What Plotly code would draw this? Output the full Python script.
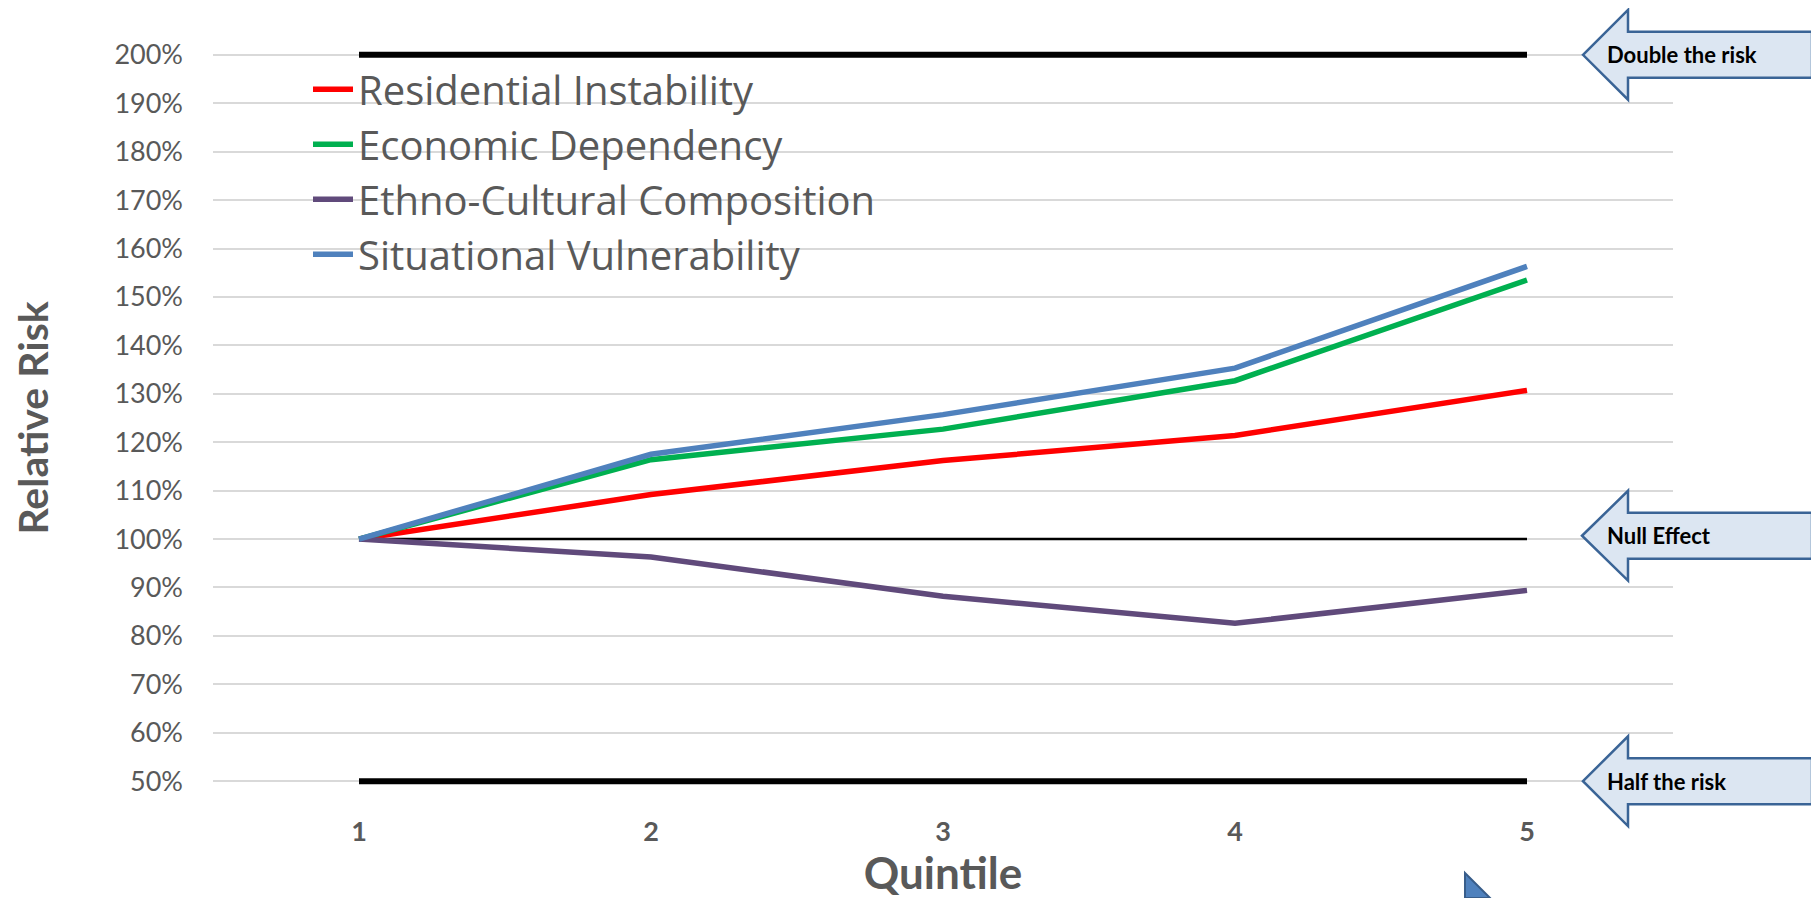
import plotly.graph_objects as go

# ---- data ----
quintiles = [1, 2, 3, 4, 5]
residential_instability = [1.00, 1.092, 1.162, 1.214, 1.307]
economic_dependency = [1.00, 1.164, 1.227, 1.327, 1.535]
ethno_cultural = [1.00, 0.963, 0.882, 0.826, 0.894]
situational_vulnerability = [1.00, 1.175, 1.257, 1.353, 1.563]
double_risk = [2.0, 2.0, 2.0, 2.0, 2.0]
null_effect = [1.0, 1.0, 1.0, 1.0, 1.0]
half_risk = [0.5, 0.5, 0.5, 0.5, 0.5]
tick_labels = ["1", "2", "3", "4", "5"]

OFF = 8  # default page body margin
W, H = 1819 - OFF, 898 - OFF
YMIN, YMAX, D = 0.5, 2.0, 0.012
PPU = 728 / 1.5  # pixels per unit on y
# page coordinates of plot area
top_page = 55 - D * PPU
bot_page = 783 + D * PPU
L = 213 - OFF
R = W - (1673 - OFF)
T = top_page - OFF
B = H - (bot_page - OFF)
PW, PH = W - L - R, H - T - B

def px(xpage):
    return (xpage - OFF - L) / PW

def py(ypage):
    return (T + PH - (ypage - OFF)) / PH

FONT = "Lato"
GRAY = "#595959"

fig = go.Figure()

# reference lines (not in legend)
fig.add_trace(go.Scatter(x=quintiles, y=double_risk, mode="lines",
                         line=dict(color="black", width=6), showlegend=False, hoverinfo="skip"))
fig.add_trace(go.Scatter(x=quintiles, y=half_risk, mode="lines",
                         line=dict(color="black", width=6), showlegend=False, hoverinfo="skip"))
fig.add_trace(go.Scatter(x=quintiles, y=null_effect, mode="lines",
                         line=dict(color="black", width=2.5), showlegend=False, hoverinfo="skip"))

series = [
    ("Residential Instability", residential_instability, "#FF0000"),
    ("Economic Dependency", economic_dependency, "#00B050"),
    ("Ethno-Cultural Composition", ethno_cultural, "#604A7B"),
    ("Situational Vulnerability", situational_vulnerability, "#4F81BD"),
]
for name, vals, col in series:
    fig.add_trace(go.Scatter(x=quintiles, y=vals, mode="lines", name=name,
                             line=dict(color=col, width=5.5)))

# arrows
def left_arrow(tip_x, tip_y, label):
    head_x, right_x = 1628, 1812
    hh, bh = 45, 23
    pts = [(tip_x, tip_y), (head_x, tip_y - hh), (head_x, tip_y - bh), (right_x, tip_y - bh),
           (right_x, tip_y + bh), (head_x, tip_y + bh), (head_x, tip_y + hh)]
    path = "M " + " L ".join(f"{px(a):.5f},{py(b):.5f}" for a, b in pts) + " Z"
    fig.add_shape(type="path", path=path, xref="paper", yref="paper",
                  fillcolor="#DCE6F2", line=dict(color="#3A6496", width=2.5), layer="above")
    fig.add_annotation(x=px(1605), y=py(tip_y), xref="paper", yref="paper",
                       text=f"<b>{label}</b>", showarrow=False, xanchor="left", yanchor="middle",
                       font=dict(family=FONT, size=22, color="black"))

left_arrow(1583, 55, "Double the risk")
left_arrow(1582, 537, "Null Effect")
left_arrow(1583, 783, "Half the risk")

# partially visible arrow at bottom edge
pts = [(1465, 875), (1490, 900), (1465, 900)]
path = "M " + " L ".join(f"{px(a):.5f},{py(b):.5f}" for a, b in pts) + " Z"
fig.add_shape(type="path", path=path, xref="paper", yref="paper",
              fillcolor="#4F81BD", line=dict(color="#385D8A", width=2))

fig.update_layout(
    width=W, height=H,
    margin=dict(l=L, r=R, t=T, b=B, pad=0),
    plot_bgcolor="white", paper_bgcolor="white",
    font=dict(family=FONT, color=GRAY),
    showlegend=True,
    legend=dict(x=px(308), y=py(57), xanchor="left", yanchor="top",
                font=dict(family="Open Sans", size=40, color=GRAY),
                bgcolor="rgba(0,0,0,0)", itemwidth=40, tracegroupgap=0),
    xaxis=dict(range=[0.5, 5.5], tickvals=quintiles, ticktext=[f"<b>{t}</b>" for t in tick_labels],
               showgrid=False, zeroline=False, showline=False, ticks="",
               tickfont=dict(family=FONT, size=27, color=GRAY), ticklabelstandoff=26,
               title=dict(text="<b>Quintile</b>", font=dict(family=FONT, size=44, color=GRAY), standoff=8)),
    yaxis=dict(range=[YMIN - D, YMAX + D], tickvals=[0.5 + 0.1 * i for i in range(16)],
               tickformat=".0%",
               showgrid=True, gridcolor="#D9D9D9", gridwidth=2, zeroline=False, showline=False,
               ticks="", tickfont=dict(family=FONT, size=27, color=GRAY), ticklabelstandoff=29,
               title=dict(text="<b>Relative Risk</b>", font=dict(family=FONT, size=41, color=GRAY), standoff=54)),
)

fig.write_html("out.html")
